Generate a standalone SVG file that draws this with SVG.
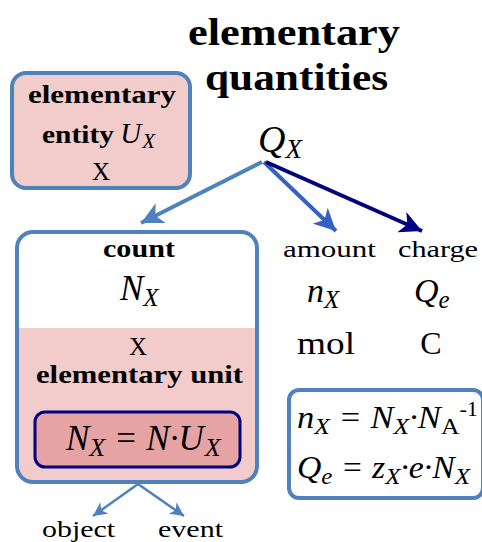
<svg xmlns="http://www.w3.org/2000/svg" width="482" height="542" viewBox="0 0 482 542">
<style>
.b{font-weight:bold}
.i{font-style:italic}
.box{stroke:#4f81bd;stroke-width:4}
</style>
<defs>
<marker id="ah1" markerUnits="userSpaceOnUse" markerWidth="26" markerHeight="22" refX="22" refY="11" orient="auto"><path d="M0,0 L22,11 L0,22 L6,11 z" fill="#4f81bd"/></marker>
<marker id="ah2" markerUnits="userSpaceOnUse" markerWidth="26" markerHeight="22" refX="22" refY="11" orient="auto"><path d="M0,0 L22,11 L0,22 L6,11 z" fill="#3561c4"/></marker>
<marker id="ah3" markerUnits="userSpaceOnUse" markerWidth="26" markerHeight="22" refX="22" refY="11" orient="auto"><path d="M0,0 L22,11 L0,22 L6,11 z" fill="#000080"/></marker>
<marker id="ah4" markerUnits="userSpaceOnUse" markerWidth="16" markerHeight="14" refX="14" refY="7" orient="auto"><path d="M0,0 L14,7 L0,14 L4,7 z" fill="#4f81bd"/></marker>
</defs>
<g font-family="Liberation Serif, serif" fill="#000">
<g id="title">
<text x="188" y="45" class="b" font-size="38" textLength="212" lengthAdjust="spacingAndGlyphs">elementary</text>
<text x="205" y="90" class="b" font-size="38" textLength="183" lengthAdjust="spacingAndGlyphs">quantities</text>
<text x="258" y="152" class="i" font-size="38">Q<tspan font-size="27" dy="6">X</tspan></text>
</g>
<g id="entity">
<rect x="12" y="73" width="178" height="115" rx="14" fill="#f2cbcb" class="box"/>
<text x="28" y="103" class="b" font-size="25" textLength="148" lengthAdjust="spacingAndGlyphs">elementary</text>
<text x="42" y="143" class="b" font-size="25"><tspan textLength="72" lengthAdjust="spacingAndGlyphs">entity</tspan> <tspan class="i" font-weight="normal" font-size="29">U</tspan><tspan class="i" font-weight="normal" font-size="21" dy="5" dx="1">X</tspan></text>
<text x="101" y="180" text-anchor="middle" font-size="25">X</text>
</g>
<g id="count">
<path d="M33,232 H241 a16,16 0 0 1 16,16 V328 H17 V248 a16,16 0 0 1 16,-16 z" fill="#fff"/>
<path d="M17,328 H257 V466 a16,16 0 0 1 -16,16 H33 a16,16 0 0 1 -16,-16 z" fill="#f2cbcb"/>
<rect x="17" y="232" width="240" height="250" rx="16" fill="none" class="box"/>
<text x="103" y="257" class="b" font-size="25" textLength="72" lengthAdjust="spacingAndGlyphs">count</text>
<text x="120" y="300" class="i" font-size="35">N<tspan font-size="25" dy="6">X</tspan></text>
<text x="138" y="355" text-anchor="middle" font-size="25">X</text>
<text x="36" y="383" class="b" font-size="25" textLength="207" lengthAdjust="spacingAndGlyphs">elementary unit</text>
<rect x="35" y="412" width="205" height="55" rx="10" fill="#e6a3a3" stroke="#000080" stroke-width="3"/>
<text x="66" y="450" class="i" font-size="35">N<tspan font-size="26" dy="6">X</tspan><tspan dy="-6"> = N·U</tspan><tspan font-size="26" dy="6" dx="1">X</tspan></text>
</g>
<g id="amount">
<text x="283" y="257" font-size="24" textLength="93" lengthAdjust="spacingAndGlyphs">amount</text>
<text x="307" y="302" class="i" font-size="34">n<tspan font-size="25" dy="6">X</tspan></text>
<text x="297" y="354" font-size="32" textLength="58" lengthAdjust="spacingAndGlyphs">mol</text>
</g>
<g id="charge">
<text x="398" y="257" font-size="24" textLength="80" lengthAdjust="spacingAndGlyphs">charge</text>
<text x="414" y="302" class="i" font-size="34">Q<tspan font-size="25" dy="6">e</tspan></text>
<text x="431" y="354" text-anchor="middle" font-size="32">C</text>
</g>
<g id="formulas">
<rect x="289" y="390" width="194" height="108" rx="10" fill="none" class="box"/>
<text x="297" y="428" class="i" font-size="31" textLength="181" lengthAdjust="spacingAndGlyphs">n<tspan font-size="23" dy="6">X</tspan><tspan dy="-6"> = N</tspan><tspan font-size="23" dy="6">X</tspan><tspan dy="-6">·N</tspan><tspan font-size="23" dy="6" font-style="normal">A</tspan><tspan font-size="20" dy="-18" font-style="normal">-1</tspan></text>
<text x="297" y="478" class="i" font-size="31" textLength="173" lengthAdjust="spacingAndGlyphs">Q<tspan font-size="23" dy="6">e</tspan><tspan dy="-6"> = z</tspan><tspan font-size="23" dy="6">X</tspan><tspan dy="-6">·e·N</tspan><tspan font-size="23" dy="6">X</tspan></text>
</g>
<g id="object"><text x="42" y="537" font-size="24" textLength="73" lengthAdjust="spacingAndGlyphs">object</text></g>
<g id="event"><text x="158" y="537" font-size="24" textLength="65" lengthAdjust="spacingAndGlyphs">event</text></g>
</g>
<g id="connectors" fill="none">
<line x1="262" y1="162" x2="141" y2="223" stroke="#4f81bd" stroke-width="4" marker-end="url(#ah1)"/>
<line x1="264" y1="162" x2="336" y2="231" stroke="#3561c4" stroke-width="4" marker-end="url(#ah2)"/>
<line x1="266" y1="162" x2="422" y2="231" stroke="#000080" stroke-width="4" marker-end="url(#ah3)"/>
<line x1="138" y1="484" x2="93" y2="516" stroke="#4f81bd" stroke-width="2.5" marker-end="url(#ah4)"/>
<line x1="138" y1="484" x2="184" y2="516" stroke="#4f81bd" stroke-width="2.5" marker-end="url(#ah4)"/>
</g>
</svg>
